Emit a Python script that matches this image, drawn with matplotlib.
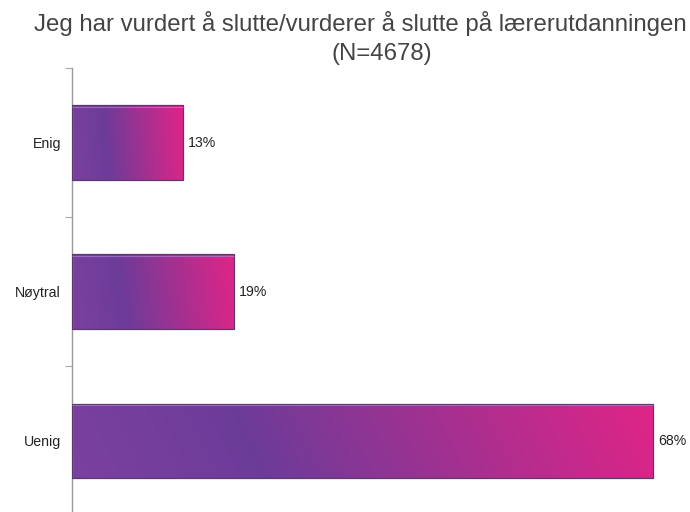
import matplotlib
matplotlib.use("Agg")
import matplotlib.pyplot as plt
import numpy as np
from matplotlib.colors import LinearSegmentedColormap
from matplotlib.patches import Rectangle

plt.rcParams['font.family'] = ['Liberation Sans', 'DejaVu Sans']

categories = ["Enig", "Nøytral", "Uenig"]
values = [13, 19, 68]
title_line1 = "Jeg har vurdert å slutte/vurderer å slutte på lærerutdanningen"
title_line2 = "(N=4678)"

W, H = 690, 512
fig = plt.figure(figsize=(W / 100, H / 100), dpi=100)

# axes placed in pixel terms: left spine at x=72, top at y=68, extends below bottom edge
x0, x1 = 72, 690
y_top, y_bot = 68, 515.5
ax = fig.add_axes([x0 / W, 1 - y_bot / H, (x1 - x0) / W, (y_bot - y_top) / H])

px_per_unit = (653 - 72) / 68.0
xmax = (x1 - x0) / px_per_unit

cmap = LinearSegmentedColormap.from_list(
    "bar", [(0.0, "#7a409f"), (0.3, "#6c3c99"), (1.0, "#dc2588")])

bar_h = 0.5
gx, gy = np.meshgrid(np.linspace(0, 1, 256), np.linspace(0, 1, 32))

for i, (cat, v) in enumerate(zip(categories, values)):
    top, bot = i - bar_h / 2, i + bar_h / 2
    # slight diagonal: upper edge a bit pinker
    g = np.clip(gx + 0.06 * (1 - gy) - 0.03, 0, 1)
    im = ax.imshow(g, cmap=cmap, vmin=0, vmax=1, aspect="auto",
                   extent=[0, v, bot, top], origin="upper", zorder=2,
                   interpolation="bilinear")
    rect = Rectangle((0, top), v, bar_h, facecolor="none",
                     edgecolor="#5a3a6a", linewidth=0.9, zorder=3)
    ax.add_patch(rect)
    im.set_clip_path(rect)
    # light highlight along the top edge
    ax.plot([0, v], [top + 0.012, top + 0.012], color="#b07ad8", lw=0.8,
            alpha=0.7, zorder=3, solid_capstyle="butt")
    ax.annotate(f"{v}%", xy=(v, i), xytext=(3.5, 0), textcoords="offset points",
                va="center", ha="left", fontsize=10.2, color="#222222")

ax.set_xlim(0, xmax)
ax.set_ylim(len(categories) - 0.5, -0.5)

ax.set_yticks(range(len(categories)))
ax.set_yticklabels(categories, fontsize=10.2, color="#222222")
ax.tick_params(axis="y", which="major", length=0, pad=8)
ax.set_yticks([-0.5, 0.5, 1.5], minor=True)
ax.tick_params(axis="y", which="minor", length=5, color="#aaaaaa", width=0.8)
ax.set_xticks([])
for s in ["top", "right", "bottom"]:
    ax.spines[s].set_visible(False)
ax.spines["left"].set_color("#9a9a9a")
ax.spines["left"].set_linewidth(1.0)

fig.text(360.5 / W, 1 - 31 / H, title_line1, ha="center", va="baseline",
         fontsize=17.3, color="#444444")
fig.text(382 / W, 1 - 60 / H, title_line2, ha="center", va="baseline",
         fontsize=17.3, color="#444444")

fig.savefig("out.png", dpi=100)
